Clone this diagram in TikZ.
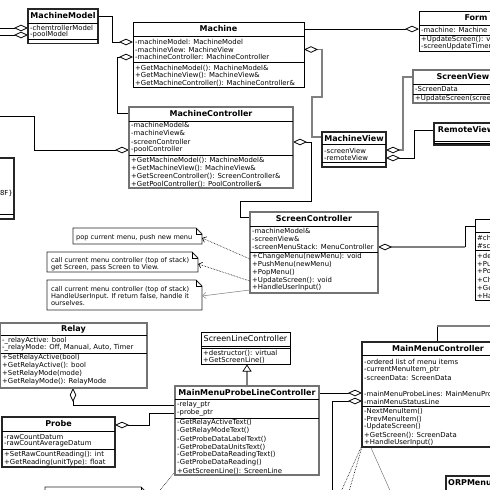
\documentclass[tikz,border=0pt]{standalone}
\usepackage{fontspec}
\setmainfont{DejaVu Sans}
\usetikzlibrary{arrows.meta}
\newcommand\memf{\fontsize{6.9pt}{7.5pt}\selectfont}
\newcommand\ttlf{\fontsize{8pt}{9pt}\selectfont\bfseries}
\newcommand\ttlrf{\fontsize{8pt}{9pt}\selectfont}
\newcommand\notef{\fontsize{6.6pt}{7pt}\selectfont}
\tikzset{
  boxthin/.style={draw=black, line width=0.7pt, fill=white, inner sep=0pt, outer sep=0pt},
  boxgray/.style={draw=black!55, line width=1.4pt, fill=white, inner sep=0pt, outer sep=0pt},
  boxdark/.style={draw=black!85, line width=1.1pt, fill=white, inner sep=0pt, outer sep=0pt},
  sepl/.style={draw=black, line width=0.6pt},
  mem/.style={font=\memf, anchor=west, inner sep=0pt},
  ntx/.style={font=\notef, anchor=west, inner sep=0pt},
  ttl/.style={font=\ttlf, inner sep=0pt},
  ttlr/.style={font=\ttlrf, inner sep=0pt},
  conn/.style={draw=black, line width=0.8pt},
  conngray/.style={draw=black!50, line width=1.4pt},
  connlight/.style={draw=black!45, line width=0.6pt},
  dots/.style={draw=black, line width=0.6pt, densely dotted},
  agg/.style={-{Diamond[color=black,fill=white,length=14pt,width=6.5pt,line width=0.8pt]}},
  gen/.style={-{Triangle[color=black,fill=white,length=7pt,width=9pt,line width=0.7pt]}},
  notearrow/.style={-{Straight Barb[length=3.5pt,width=6pt,line width=0.6pt]}},
  notest/.style={draw=black!85, line width=0.8pt, fill=white},
}
\newcommand\ubox[6]{\node[#2, anchor=north west, minimum width={(#5)-(#3)}, minimum height={(#6)-(#4)}] (#1) at (#3,#4) {};}
\newcommand\rows[5]{\foreach \tx [count=\i] in {#5} {\node[mem] (#1-\i) at (#2,{#3+(\i-1)*(#4)}) {\tx};}}
\newcommand\nrows[5]{\foreach \tx [count=\i] in {#5} {\node[ntx] (#1-\i) at (#2,{#3+(\i-1)*(#4)}) {\tx};}}
\newcommand\unote[5]{%
  \path[notest] (#2,#3) -- ({#4-6},#3) -- (#4,{#3+6}) -- (#4,#5) -- (#2,#5) -- cycle;
  \draw[line width=0.5pt] ({#4-6},#3) -- ({#4-6},{#3+6}) -- (#4,{#3+6});
  \coordinate (#1) at (#4,{(#3+#5)/2});}
\begin{document}
\begin{tikzpicture}[x=1pt,y=-1pt]
\useasboundingbox (0,0) rectangle (490,490);
\fill[white] (0,0) rectangle (490,490);
\clip (0,0) rectangle (490,490);

% ---------- connector end points ----------
\coordinate (eL1) at (-5,28);
\coordinate (eL2) at (-5,35);
\coordinate (eL3) at (-5,116);
\coordinate (mmC) at (28,28);
\coordinate (mmP) at (28,35);
\coordinate (mmT) at (98,16);
\coordinate (maM) at (133,42);
\coordinate (maC) at (133,57);
\coordinate (maT) at (304,29);
\coordinate (maV) at (304,49.5);
\coordinate (foM) at (419,29);
\coordinate (mcT) at (129,113);
\coordinate (mcP) at (129,150);
\coordinate (mcS) at (293,142);
\coordinate (mvT) at (322,137);
\coordinate (mvS) at (386,150);
\coordinate (mvR) at (386,158);
\coordinate (svT) at (413,77);
\coordinate (rvT) at (434,130);
\coordinate (scT) at (250,217);
\coordinate (scM) at (378,247);
\coordinate (scA) at (250,259);
\coordinate (scB) at (250,281);
\coordinate (scC) at (250,290);
\coordinate (menT) at (475,226);
\coordinate (menK) at (465,247);
\coordinate (mmcTop) at (437,342);
\coordinate (mmcK) at (437,326);
\coordinate (eR1) at (495,326);
\coordinate (reB) at (73,388);
\coordinate (prR) at (115,425);
\coordinate (plR) at (175,405);
\coordinate (plP) at (175,413);
\coordinate (plTop) at (247,386);
\coordinate (slcB) at (247,364.5);
\coordinate (plT) at (319,393);
\coordinate (plBL) at (175,472);
\coordinate (mmcL1) at (362,393);
\coordinate (mmcL2) at (362,401);
\coordinate (eB1) at (332,495);
\coordinate (eB2) at (156,495);
\coordinate (mmcBL1) at (363,443);
\coordinate (mmcBL2) at (364,440);
\coordinate (mmcBL3) at (364,432);
\coordinate (eB3) at (339.5,495);
\coordinate (eB4) at (348,495);
\coordinate (eB5) at (392,495);

% ---------- connectors ----------
\draw[conn, agg] (eL1) -- (mmC);
\draw[conn, agg] (eL2) -- (mmP);
\draw[conn, agg] (mmT) -- (112,16) -- (112,42) -- (maM);
\draw[conn, agg] (mcT) -- (117,113) -- (117,57) -- (maC);
\draw[conn, agg] (maT) -- (foM);
\draw[conngray, agg] (mvT) -- (312,137) -- (312,97) -- (322,97) -- (322,49.5) -- (maV);
\draw[conngray, agg] (svT) -- (403,77) -- (403,150) -- (mvS);
\draw[conn, agg] (rvT) -- (414,130) -- (414,158) -- (mvR);
\draw[conn, agg] (eL3) -- (34,116) -- (34,150) -- (mcP);
\draw[conn, agg] (scT) -- (240,217) -- (240,201) -- (311,201) -- (311,142) -- (mcS);
\draw[conn] (menT) -- (465,226) -- (menK);
\draw[conngray, agg] (menK) -- (scM);
\draw[conn] (mmcTop) -- (mmcK);
\draw[conngray] (mmcK) -- (eR1);
\draw[conn, agg] (plR) -- (73,405) -- (reB);
\draw[conn, agg] (plP) -- (149,413) -- (149,425) -- (prR);
\draw[conngray, gen] (plTop) -- (slcB);
\draw[conn, agg] (plT) -- (mmcL1);
\draw[conn, agg] (eB1) -- (332,401) -- (mmcL2);
\draw[dots] (plBL) -- (eB2);
\draw[dots] (mmcBL1) -- (eB3);
\draw[dots] (mmcBL2) -- (eB4);
\draw[connlight] (mmcBL3) -- (eB5);

% ---------- left cut box ----------
\ubox{lbox}{boxdark}{-20}{158}{14}{219}
\draw[sepl] (-20,214) -- (14,214);
\node[mem, anchor=east] (lbox-t) at (13,193) {0x8F\}};

% ---------- MachineModel ----------
\ubox{mm}{boxdark}{28}{9}{98}{43.5}
\node[ttl] (mm-t) at (63,16) {MachineModel};
\draw[sepl] (28,23) -- (98,23);
\rows{mma}{30}{28}{7}{-chemtrollerModel,-poolModel}
\draw[sepl] (28,39.5) -- (98,39.5);

% ---------- Machine ----------
\ubox{ma}{boxthin}{133}{22}{304}{87}
\node[ttl] (ma-t) at (218.5,29) {Machine};
\draw[sepl] (133,36) -- (304,36);
\rows{maa}{135}{42}{7.5}{-machineModel: MachineModel,-machineView: MachineView,-machineController: MachineController}
\draw[sepl] (133,62) -- (304,62);
\rows{mao}{135}{68}{7.5}{+GetMachineModel(): MachineModel\&,+GetMachineView(): MachineView\&,+GetMachineController(): MachineController\&}

% ---------- Form ----------
\ubox{fo}{boxthin}{419}{11}{533}{51}
\node[ttl] (fo-t) at (476,18) {Form};
\draw[sepl] (419,25) -- (533,25);
\rows{foa}{421}{29.5}{7}{-machine: Machine}
\draw[sepl] (419,35) -- (533,35);
\rows{foo}{421}{39.5}{7.5}{+UpdateScreen(): void,-screenUpdateTimer}

% ---------- ScreenView ----------
\ubox{sv}{boxgray}{413}{70}{513}{103}
\node[ttl] (sv-t) at (463,77) {ScreenView};
\draw[sepl] (413,84) -- (513,84);
\rows{sva}{415}{89}{7}{-ScreenData}
\draw[sepl] (413,94) -- (513,94);
\rows{svo}{415}{99}{7}{+UpdateScreen(screenData): void}

% ---------- RemoteView ----------
\ubox{rv}{boxdark}{434}{123}{498}{145}
\node[ttl] (rv-t) at (466,130) {RemoteView};
\draw[sepl] (434,141) -- (498,141);
\draw[sepl] (434,143) -- (498,143);

% ---------- MachineView ----------
\ubox{mv}{boxdark}{322}{132}{386}{167}
\node[ttl] (mv-t) at (354,138.5) {MachineView};
\draw[sepl] (322,144) -- (386,144);
\rows{mva}{324}{151}{7}{-screenView,-remoteView}
\draw[sepl] (322,162) -- (386,162);

% ---------- MachineController ----------
\ubox{mc}{boxgray}{129}{107}{293}{188}
\node[ttl] (mc-t) at (211,114) {MachineController};
\draw[sepl] (129,121) -- (293,121);
\rows{mca}{131}{125}{8.3}{-machineModel\&,-machineView\&,-screenController,-poolController}
\draw[sepl] (129,155) -- (293,155);
\rows{mco}{131}{160}{8}{+GetMachineModel(): MachineModel\&,+GetMachineView(): MachineView\&,+GetScreenController(): ScreenController\&,+GetPoolController(): PoolController\&}

% ---------- ScreenController ----------
\ubox{sc}{boxgray}{250}{212}{378}{293}
\node[ttl] (sc-t) at (314,219) {ScreenController};
\draw[sepl] (250,226) -- (378,226);
\rows{sca}{252}{231}{8}{-machineModel\&,-screenView\&,-screenMenuStack: MenuController}
\draw[sepl] (250,252) -- (378,252);
\rows{sco}{252}{257}{7.75}{+ChangeMenu(newMenu): void,+PushMenu(newMenu),+PopMenu(),+UpdateScreen(): void,+HandleUserInput()}

% ---------- MenuController (cut) ----------
\ubox{men}{boxthin}{475}{219}{560}{300}
\draw[sepl] (475,232) -- (560,232);
\rows{mena}{477}{238}{8}{\#che,\#scr}
\draw[sepl] (475,250) -- (560,250);
\rows{meno}{477}{256}{8}{+des,+Pus,+Pop,+Cha,+Get,+Han}

% ---------- notes ----------
\unote{n1}{73}{228}{202}{244}
\nrows{n1t}{76}{237.5}{7}{{pop current menu, push new menu}}
\unote{n2}{47}{252}{198}{272}
\nrows{n2t}{51}{261}{6.8}{call current menu controller (top of stack),{get Screen, pass Screen to View.}}
\unote{n3}{47}{280}{202}{310}
\nrows{n3t}{51}{290}{6.7}{call current menu controller (top of stack),{HandleUserInput. If return false, handle it},ourselves.}
\coordinate (n1a) at (202,238);
\coordinate (n2a) at (198,264);
\coordinate (n3a) at (202,296);
\draw[dots, notearrow] (scA) -- (n1a);
\draw[dots, notearrow] (scB) -- (n2a);
\draw[connlight, notearrow] (scC) -- (n3a);

% ---------- Relay ----------
\ubox{re}{boxgray}{0.7}{323}{147}{388}
\node[ttl] (re-t) at (73.5,329) {Relay};
\draw[sepl] (0.7,335) -- (147,335);
\rows{rea}{2}{341}{7}{-\_relayActive: bool,{-\_relayMode: Off, Manual, Auto, Timer}}
\draw[sepl] (0.7,353) -- (147,353);
\rows{reo}{2}{358}{8}{+SetRelayActive(bool),+GetRelayActive(): bool,+SetRelayMode(mode),+GetRelayMode(): RelayMode}

% ---------- Probe ----------
\ubox{pr}{boxdark}{2}{417}{115}{467}
\node[ttl] (pr-t) at (58.5,424) {Probe};
\draw[sepl] (2,431) -- (115,431);
\rows{pra}{4}{437}{7}{-rawCountDatum,-rawCountAverageDatum}
\draw[sepl] (2,449) -- (115,449);
\rows{pro}{4}{454.5}{8}{+SetRawCountReading(): int,+GetReading(unitType): float}

% ---------- bottom-left note (cut) ----------
\path[notest] (45,500) -- (45,487) -- (141,487) -- (147,493) -- (147,500);
\draw[line width=0.5pt] (141,487) -- (141,493) -- (147,493);

% ---------- ScreenLineController ----------
\ubox{slc}{boxthin}{201}{332}{290}{364}
\node[ttlr] (slc-t) at (245.5,338.5) {ScreenLineController};
\draw[sepl] (201,346) -- (290,346);
\draw[sepl] (201,348.5) -- (290,348.5);
\rows{slco}{203}{353.5}{7.2}{+destructor(): virtual,+GetScreenLine()}

% ---------- MainMenuProbeLineController ----------
\ubox{pl}{boxgray}{175}{386}{319}{475}
\node[ttl] (pl-t) at (247,392.5) {MainMenuProbeLineController};
\draw[sepl] (175,399) -- (319,399);
\rows{pla}{177}{405}{8}{-relay\_ptr,-probe\_ptr}
\draw[sepl] (175,418) -- (319,418);
\rows{plo}{177}{423}{8}{-GetRelayActiveText(),-GetRelayModeText(),-GetProbeDataLabelText(),-GetProbeDataUnitsText(),-GetProbeDataReadingText(),-GetProbeDataReading(),+GetScreenLine(): ScreenLine}

% ---------- MainMenuController ----------
\ubox{mmc}{boxdark}{362}{342}{514}{447}
\node[ttl] (mmc-t) at (438,349) {MainMenuController};
\draw[sepl] (362,355) -- (514,355);
\rows{mmca}{364}{362}{8}{-ordered list of menu items,-currentMenuItem\_ptr,-screenData: ScreenData,\mbox{},-mainMenuProbeLines: MainMenuProbeLineController,-mainMenuStatusLine}
\draw[sepl] (362,406) -- (514,406);
\rows{mmco}{364}{411}{8}{-NextMenuItem(),-PrevMenuItem(),-UpdateScreen(),+GetScreen(): ScreenData,+HandleUserInput()}

% ---------- ORPMenu (cut) ----------
\ubox{orp}{boxdark}{446}{476}{560}{540}
\node[ttl, anchor=west] (orp-t) at (448,482.5) {ORPMenuController};
\end{tikzpicture}
\end{document}
